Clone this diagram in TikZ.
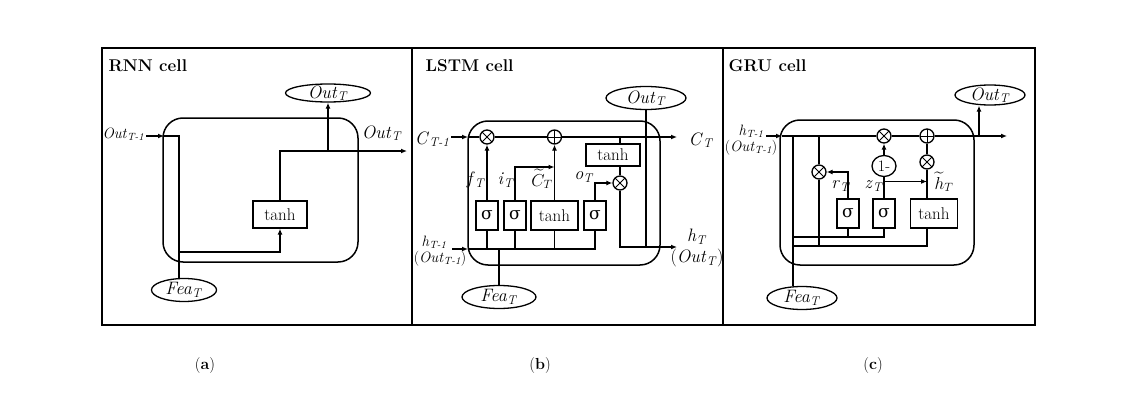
\documentclass[tikz,border=0pt]{standalone}
\usepackage{fontspec}
\usepackage{amsmath}
\usetikzlibrary{shapes.geometric}
\usetikzlibrary{arrows.meta}
\newfontfamily\grkfont{DejaVu Serif}
\newcommand{\vsub}[2]{\textit{#1}\textsubscript{\textit{#2}}}
\newcommand{\sig}{{\grkfont\fontsize{17}{19}\selectfont σ}}

\begin{document}
\begin{tikzpicture}[x=1pt,y=-1pt,line width=1.3pt,>={Latex[length=6pt,width=5pt]},
	every node/.style={font=\fontsize{18}{21}\selectfont,inner sep=1pt},
	smalltext/.style={font=\fontsize{15}{17}\selectfont},
	titletext/.style={anchor=base west,font=\fontsize{17}{20}\selectfont\bfseries},
	captext/.style={font=\fontsize{16}{18}\selectfont},
	panel/.style={line width=2pt},
	cell/.style={line width=1.5pt,rounded corners=20pt},
	gate/.style={draw,rectangle,inner sep=0pt,minimum width=22pt,minimum height=29pt,font=\fontsize{17}{19}\selectfont},
	ellnode/.style={draw,ellipse,inner xsep=0pt,inner ysep=-3pt},
	mulop/.style={draw,circle,inner sep=0pt,minimum size=14pt,
		path picture={\draw[line width=0.9pt] (path picture bounding box.north west) -- (path picture bounding box.south east)
			(path picture bounding box.north east) -- (path picture bounding box.south west);}},
	addop/.style={draw,circle,inner sep=0pt,minimum size=14pt,
		path picture={\draw[line width=0.9pt] (path picture bounding box.north) -- (path picture bounding box.south)
			(path picture bounding box.west) -- (path picture bounding box.east);}}]
	\useasboundingbox (0,0) rectangle (1128,404);

	\draw[panel] (102,48) rectangle (412,325);
	\draw[panel] (412,48) rectangle (723,325);
	\draw[panel] (723,48) rectangle (1035,325);
	\node[titletext] (titA) at (107,72) {RNN cell};
	\node[titletext] (titB) at (424,72) {LSTM cell};
	\node[titletext] (titC) at (727,72) {GRU cell};
	\node[captext] (capA) at (205,366) {(\textbf{a})};
	\node[captext] (capB) at (540,366) {(\textbf{b})};
	\node[captext] (capC) at (873,366) {(\textbf{c})};

	\draw[cell] (163,118) rectangle (358,262);
	\node[ellnode,minimum width=85pt,minimum height=18pt] (outA) at (328,93) {\vsub{Out}{T}};
	\node[ellnode,minimum width=65pt,minimum height=23pt] (feaA) at (184,290) {\vsub{Fea}{T}};
	\node[gate,minimum width=54pt,minimum height=27pt] (tanhA) at (280,214.5) {tanh};
	\node[smalltext,anchor=east] (inA) at (146,134) {\vsub{Out}{T-1}};
	\node (outLabA) at (382,133) {\vsub{Out}{T}};
	\coordinate (aIn) at (164,136);
	\coordinate (aTurn) at (179,136);
	\coordinate (aBus) at (179,252);
	\coordinate (aSplit) at (328,151);
	\coordinate (aEnd) at (407,151);
	\draw[->] (inA.east |- aIn) -- (aIn);
	\draw (aIn) -- (aTurn) -- (aTurn |- feaA.north);
	\draw[->] (aBus) -| (tanhA.south);
	\draw[->] (tanhA.north) |- (aEnd);
	\draw[->] (aSplit) -- (outA.south);

	\draw[cell] (468,121) rectangle (660,265);
	\node[anchor=east] (cIn) at (451,139) {\vsub{C}{T-1}};
	\node[anchor=west] (cOut) at (687,140) {\vsub{C}{T}};
	\coordinate (bC0) at (468,137);
	\coordinate (bTap) at (620,137);
	\coordinate (bC1) at (677,137);
	\node[mulop] (fMul) at (487,137) {};
	\node[addop] (cAdd) at (554.5,137) {};
	\node[gate] (sigF) at (487,215.5) {\sig};
	\node[gate] (sigI) at (515,215.5) {\sig};
	\node[gate,minimum width=47pt] (tanhC) at (554.5,215.5) {tanh};
	\node[gate] (sigO) at (595,215.5) {\sig};
	\node[gate,minimum width=54pt,minimum height=22pt] (tanhH) at (613,155) {tanh};
	\node[mulop] (oMul) at (620,183) {};
	\node[ellnode,minimum width=80pt,minimum height=23pt] (outB) at (646,98) {\vsub{Out}{T}};
	\node[ellnode,minimum width=74pt,minimum height=23pt] (feaB) at (499,297) {\vsub{Fea}{T}};
	\node[align=center] (hOutB) at (697,248) {\vsub{h}{T}\\(\vsub{Out}{T})};
	\node[smalltext] (hInB1) at (434,242) {\vsub{h}{T-1}};
	\node[smalltext] (hInB2) at (440,259) {(\vsub{Out}{T-1})};
	\node (fLab) at (476,180) {\vsub{f}{T}};
	\node (iLab) at (506,180) {\vsub{i}{T}};
	\node (cLab) at (542,179) {$\widetilde{C}_T$};
	\node (oLab) at (584,177) {\vsub{o}{T}};
	\coordinate (iJoin) at (554.5,167);
	\coordinate (bH1) at (677,247);
	\coordinate (bArr) at (452,249);
	\coordinate (bBus) at (468,249);
	\draw[->] (cIn.east |- bC0) -- (bC0);
	\draw[->] (bC0) -- (fMul) -- (cAdd) -- (bC1);
	\draw (bTap) -- (bTap |- tanhH.north);
	\draw (tanhH.south -| oMul) -- (oMul);
	\draw[->] (sigF) -- (fMul);
	\draw[->] (sigI.north) |- (iJoin);
	\draw[->] (tanhC) -- (cAdd);
	\draw[->] (sigO.north) |- (oMul);
	\draw[->] (oMul) |- (bH1);
	\draw (outB) -- (outB |- bH1);
	\draw[->] (bArr) -- (bBus);
	\draw (bBus) -| (sigO);
	\foreach \g in {sigF,sigI,tanhC}
		\draw (\g) -- (\g |- bBus);
	\draw (feaB) -- (feaB |- bBus);

	\draw[cell] (780,120) rectangle (974,265);
	\node[smalltext] (hInC1) at (751,131) {\vsub{h}{T-1}};
	\node[smalltext] (hInC2) at (751,148) {(\vsub{Out}{T-1})};
	\coordinate (gArr) at (766,136);
	\coordinate (gIn) at (782,136);
	\coordinate (gV1) at (793,136);
	\coordinate (gV2) at (819,136);
	\coordinate (gSplit) at (979,136);
	\coordinate (gOut) at (1007,136);
	\node[mulop] (zMul) at (884,136) {};
	\node[addop] (hAdd) at (927,136) {};
	\node[mulop] (hMul) at (927,162) {};
	\node[ellnode,minimum width=24pt,minimum height=21pt,font=\fontsize{16}{18}\selectfont] (oneMin) at (884,166) {1-};
	\node[mulop] (rMul) at (819,172) {};
	\node[gate] (sigR) at (848,213.5) {\sig};
	\node[gate] (sigZ) at (884,213.5) {\sig};
	\node[gate,minimum width=47pt] (tanhG) at (934,213.5) {tanh};
	\node[ellnode,minimum width=70pt,minimum height=20pt] (outC) at (990,95) {\vsub{Out}{T}};
	\node[ellnode,minimum width=70pt,minimum height=23pt] (feaC) at (802,298) {\vsub{Fea}{T}};
	\node (rLab) at (841,186) {\vsub{r}{T}};
	\node (zLab) at (874,186) {\vsub{z}{T}};
	\node (hLab) at (944,182) {$\widetilde{h}_T$};
	\coordinate (zJoin) at (884,181.5);
	\coordinate (gBus1) at (793,237);
	\coordinate (gBus2) at (793,246);
	\draw[->] (gArr) -- (gIn);
	\draw[->] (gIn) -- (zMul) -- (hAdd) -- (gOut);
	\draw[->] (gSplit) -- (gSplit |- outC.south);
	\draw (gV1) -- (gV1 |- feaC.north);
	\draw (gV2) -- (rMul) -- (rMul |- gBus2);
	\draw[->] (sigR) |- (rMul);
	\draw (sigZ) -- (oneMin);
	\draw[->] (oneMin) -- (zMul);
	\draw[->] (zJoin) -- (zJoin -| hMul);
	\draw (hMul) -- (hAdd);
	\draw (tanhG.north -| hMul) -- (hMul);
	\draw (gBus1) -| (sigZ);
	\draw (sigR) -- (sigR |- gBus1);
	\draw (gBus2) -| (tanhG.south -| hMul);
\end{tikzpicture}
\end{document}
